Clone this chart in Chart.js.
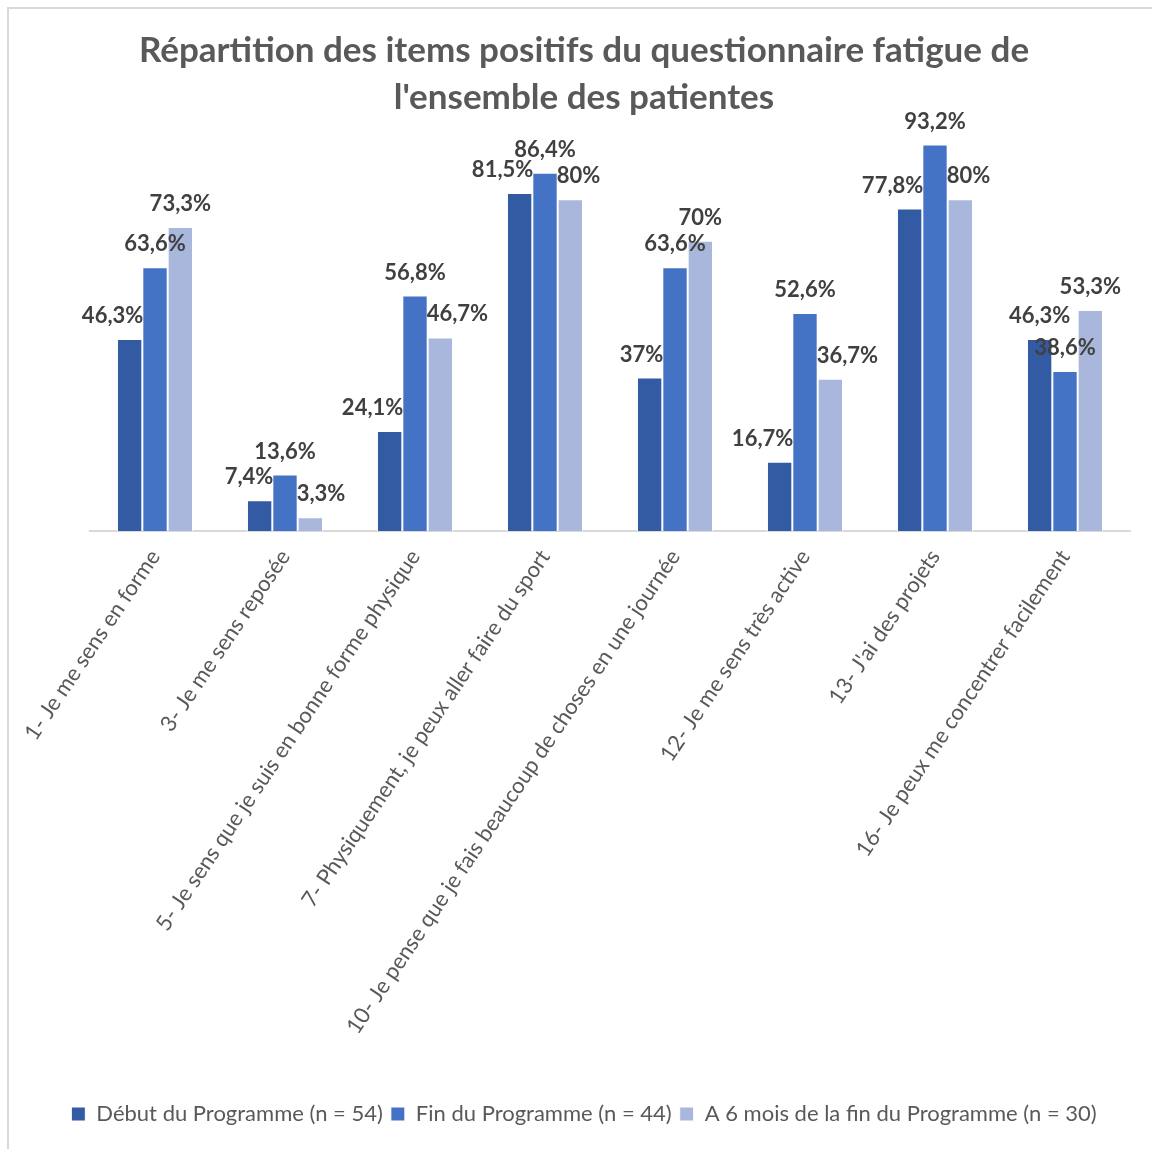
<!DOCTYPE html>
<html>
<head>
<meta charset="utf-8">
<script src="https://cdn.jsdelivr.net/npm/chart.js@4.4.1/dist/chart.umd.min.js"></script>
<style>
  html, body { margin: 0; padding: 0; background: #fff; }
  #frame {
    position: absolute; left: 7px; top: 7px; width: 1300px; height: 1300px;
    border-top: 2px solid #d9d9d9; border-left: 2px solid #d9d9d9;
  }
  #wrap { position: absolute; left: 0; top: 0; width: 1152px; height: 1149px; }
</style>
</head>
<body>
<div id="frame"></div>
<div id="wrap"><canvas id="chart" width="1152" height="1149"></canvas></div>
<script>
// categories (questionnaire items)
const items = [
  '1- Je me sens en forme',
  '3- Je me sens reposée',
  '5- Je sens que je suis en bonne forme physique',
  '7- Physiquement, je peux aller faire du sport',
  '10- Je pense que je fais beaucoup de choses en une journée',
  '12- Je me sens très active',
  "13- J'ai des projets",
  '16- Je peux me concentrer facilement'
];

// series values (%)
const debutProgramme = [46.3, 7.4, 24.1, 81.5, 37, 16.7, 77.8, 46.3];
const finProgramme = [63.6, 13.6, 56.8, 86.4, 63.6, 52.6, 93.2, 38.6];
const sixMoisApres = [73.3, 3.3, 46.7, 80, 70, 36.7, 80, 53.3];

const seriesNames = [
  'Début du Programme (n = 54)',
  'Fin du Programme (n = 44)',
  'A 6 mois de la fin du Programme (n = 30)'
];
const seriesColors = ['#335ba3', '#4472c4', '#a9b7dc'];

const FONT = 'Lato, "Open Sans", sans-serif';

const fmt = v => String(v).replace('.', ',') + '%';

// value labels above each bar; outer labels slide sideways when they
// would sit on top of the taller middle bar (like Excel does)
const valueLabels = {
  id: 'valueLabels',
  afterDatasetsDraw(chart) {
    const ctx = chart.ctx;
    const gap = 16;
    ctx.save();
    ctx.font = 'bold 22px ' + FONT;
    ctx.fillStyle = '#404040';
    ctx.textAlign = 'center';
    ctx.textBaseline = 'bottom';
    const metas = chart.data.datasets.map((d, i) => chart.getDatasetMeta(i).data);
    chart.data.datasets.forEach((ds, i) => {
      metas[i].forEach((bar, j) => {
        const txt = fmt(ds.data[j]);
        const w = ctx.measureText(txt).width;
        const bottom = bar.y - gap;
        let x = bar.x;
        const mid = metas[1][j];
        const midLeft = mid.x - mid.width / 2;
        const midRight = mid.x + mid.width / 2;
        if (i === 0 && mid.y < bottom && x + w / 2 > midLeft) {
          x = midLeft - w / 2 + 1;
        } else if (i === 2 && mid.y < bottom && x - w / 2 < midRight) {
          x = midRight + w / 2 - 1;
        }
        ctx.fillText(txt, x, bottom + 4);
      });
    });
    ctx.restore();
  }
};

new Chart(document.getElementById('chart'), {
  type: 'bar',
  data: {
    labels: items,
    datasets: [
      { label: seriesNames[0], data: debutProgramme, backgroundColor: seriesColors[0] },
      { label: seriesNames[1], data: finProgramme, backgroundColor: seriesColors[1] },
      { label: seriesNames[2], data: sixMoisApres, backgroundColor: seriesColors[2] }
    ]
  },
  options: {
    responsive: false,
    animation: false,
    datasets: {
      bar: { categoryPercentage: 0.585, barPercentage: 1, borderColor: '#ffffff', borderWidth: 1 }
    },
    layout: { padding: { left: 38, right: 22, top: 10, bottom: 14 } },
    plugins: {
      title: {
        display: true,
        text: ['Répartition des items positifs du questionnaire fatigue de', "l'ensemble des patientes"],
        color: '#595959',
        font: { family: FONT, size: 35, weight: 'bold', lineHeight: 1.32 },
        padding: { top: 18, bottom: -4 }
      },
      legend: {
        position: 'bottom',
        labels: {
          color: '#595959',
          font: { family: FONT, size: 22 },
          boxWidth: 14,
          boxHeight: 14,
          padding: 8
        }
      },
      tooltip: { enabled: false }
    },
    scales: {
      x: {
        afterFit(scale) { scale.height = 564; },
        grid: { display: false, drawTicks: false },
        border: { display: true, color: '#d9d9d9', width: 2 },
        ticks: {
          color: '#595959',
          font: { family: FONT, size: 22 },
          minRotation: 56,
          maxRotation: 56,
          autoSkip: false,
          padding: 14
        }
      },
      y: {
        display: true,
        min: 0,
        max: 100,
        afterFit(scale) { scale.width = 52; },
        grid: { display: false },
        border: { display: false },
        ticks: { display: false }
      }
    }
  },
  plugins: [valueLabels]
});
</script>
</body>
</html>
